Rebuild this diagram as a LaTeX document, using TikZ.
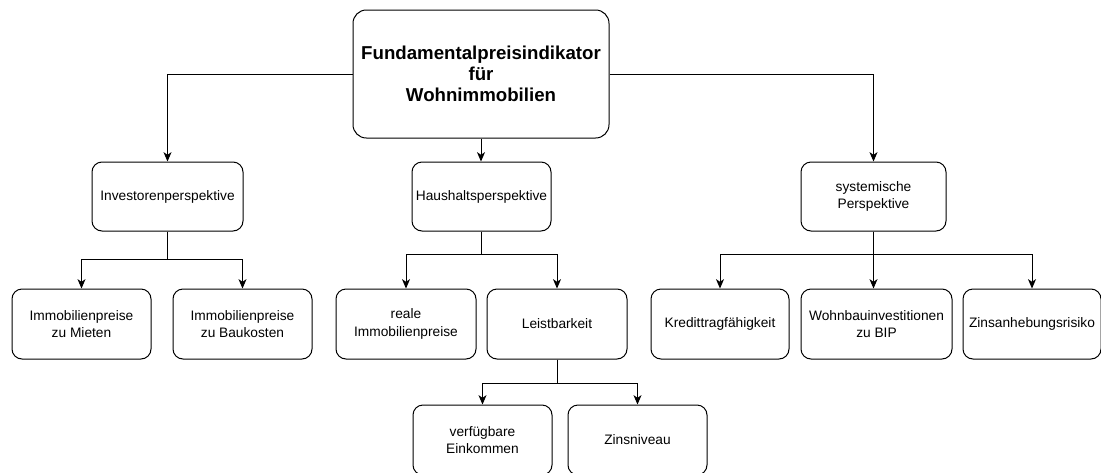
\documentclass[tikz,border=0pt]{standalone}
\usepackage{fontspec}
\setmainfont{Liberation Sans}
\usetikzlibrary{arrows.meta}
\begin{document}
\begin{tikzpicture}[x=0.75pt,y=-0.75pt,
  box/.style={draw=black,line width=0.75pt,rounded corners=7.5pt,align=center,
    font=\fontsize{10.3pt}{13.3pt}\selectfont,inner sep=0pt,minimum height=52.5pt},
  titlebox/.style={box,font=\fontsize{14pt}{15.8pt}\selectfont\bfseries,rounded corners=10pt},
  arr/.style={draw=black,line width=0.75pt,-{Stealth[length=7pt,width=6pt,inset=2pt]}}]
\useasboundingbox (0,0) rectangle (1101,472);
\fill[white] (0,0) rectangle (1101,472);
% nodes
\node[titlebox,minimum width=192pt,minimum height=96pt] (top) at (481,74) {Fundamentalpreisindikator\\für\\Wohnimmobilien};
\node[box,minimum width=113.25pt,minimum height=51.75pt] (inv) at (167.5,196.5) {Investorenperspektive};
\node[box,minimum width=104.25pt,minimum height=51.75pt] (haus) at (481.5,196.5) {Haushaltsperspektive};
\node[box,minimum width=108.75pt,minimum height=51.75pt] (sys) at (873.5,196.5) {systemische\\Perspektive};
\node[box,minimum width=104.25pt] (m1) at (81.5,324) {Immobilienpreise\\zu Mieten};
\node[box,minimum width=104.25pt] (m2) at (242.5,324) {Immobilienpreise\\zu Baukosten};
\node[box,minimum width=105pt] (reale) at (406,324) {reale\\Immobilienpreise};
\node[box,minimum width=105pt] (leist) at (557,324) {Leistbarkeit};
\node[box,minimum width=103.5pt] (kredit) at (720,324) {Kredittragfähigkeit};
\node[box,minimum width=113.25pt] (wohn) at (876.5,324) {Wohnbauinvestitionen\\zu BIP};
\node[box,minimum width=103.5pt] (zins) at (1032,324) {Zinsanhebungsrisiko};
\node[box,minimum width=104.25pt] (verf) at (482.5,440) {verfügbare\\Einkommen};
\node[box,minimum width=104.25pt] (zinsn) at (637.5,440) {Zinsniveau};
% coordinates for branch points
\coordinate (bi) at (167.5,259);
\coordinate (bh) at (481.5,254);
\coordinate (bs) at (873.5,254);
\coordinate (bl) at (557,383);
% connectors
\draw[arr] (top.west) -| (inv.north);
\draw[arr] (top.south) -- (top.south |- haus.north);
\draw[arr] (top.east) -| (sys.north);
\draw[arr] (inv.south) -- (bi) -| (m1.north);
\draw[arr] (inv.south) -- (bi) -| (m2.north);
\draw[arr] (haus.south) -- (bh) -| (reale.north);
\draw[arr] (haus.south) -- (bh) -| (leist.north);
\draw[arr] (sys.south) -- (bs) -| (kredit.north);
\draw[arr] (sys.south) -- (wohn.north -| sys.south);
\draw[arr] (sys.south) -- (bs) -| (zins.north);
\draw[arr] (leist.south) -- (bl) -| (verf.north);
\draw[arr] (leist.south) -- (bl) -| (zinsn.north);
\end{tikzpicture}
\end{document}
